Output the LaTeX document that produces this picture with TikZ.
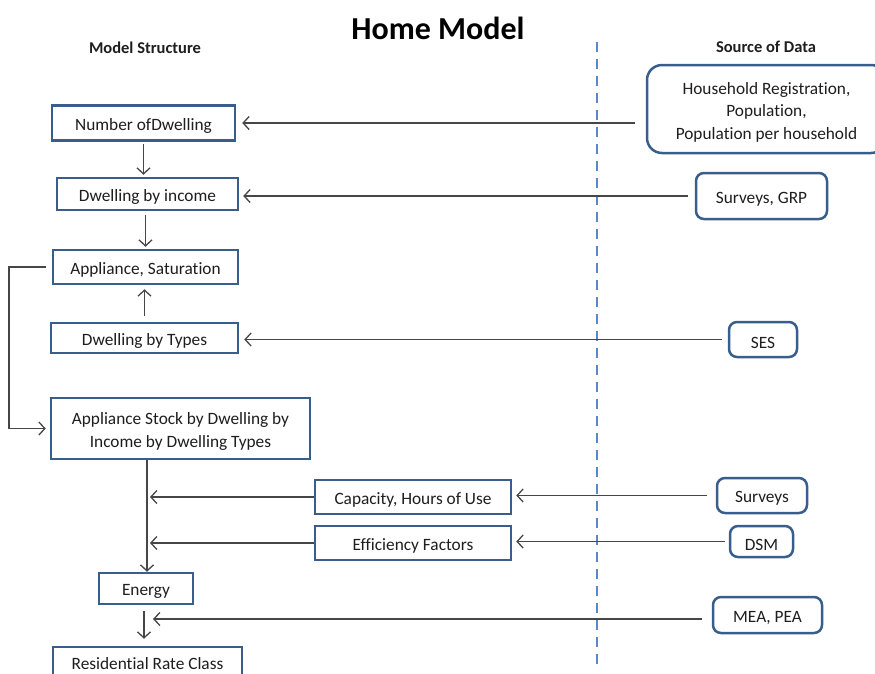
\documentclass[tikz,border=0pt]{standalone}
\usepackage{fontspec}
\setmainfont{Carlito}[Ligatures={NoCommon}]
\usetikzlibrary{arrows.meta}
\definecolor{boxblue}{RGB}{58,94,140}
\definecolor{dashblue}{RGB}{88,136,198}
\definecolor{linegray}{RGB}{70,70,70}
\definecolor{txt}{RGB}{30,30,30}
\tikzset{
  textlab/.style={align=center, text=txt, font=\fontsize{17.3}{22.5}\selectfont,
    inner sep=0pt, yshift=-3.2pt},
  boxline/.style={draw=boxblue, line width=2.5pt, fill=white, inner sep=0pt},
  % a box carries its words as a centred label
  stepbox/.style={boxline, label={[textlab]center:{#1}}},
  % the last box runs off the page, so its words sit a little higher
  edgebox/.style={boxline, label={[textlab, yshift=3.5pt]center:{#1}}},
  srcbox/.style={stepbox={#1}, rounded corners=8pt},
  arr/.style={draw=linegray, line width=1.5pt,
    -{Straight Barb[length=6pt,width=13pt,line width=1.3pt]}},
  head/.style={font=\bfseries\fontsize{16.5}{18}\selectfont, text=txt},
}
\begin{document}
\begin{tikzpicture}[x=1pt,y=-1pt]
\useasboundingbox (0,0) rectangle (875,673);
\begin{scope}
\clip (0,0) rectangle (875,673);

% headings
\node[font=\bfseries\fontsize{32}{36}\selectfont, text=black] (title) at (438,28) {Home Model};
\node[head] (lhead) at (145,48) {Model Structure};
\node[head] (rhead) at (766,47) {Source of Data};

% dashed divider
\coordinate (dtop) at (597,42);
\coordinate (dbot) at (597,667);
\draw[dashblue, line width=2.8pt, dash pattern=on 10pt off 7pt] (dtop) -- (dbot);

% model structure column
\node[stepbox={Number ofDwelling}, minimum width=183pt, minimum height=35pt] (b1) at (143.5,123) {};
\node[stepbox={Dwelling by income}, minimum width=181pt, minimum height=32pt] (b2) at (147.5,194) {};
\node[stepbox={Appliance, Saturation}, minimum width=185pt, minimum height=34pt] (b3) at (145.5,267) {};
\node[stepbox={Dwelling by Types}, minimum width=187pt, minimum height=30pt] (b4) at (144.5,338) {};
\node[stepbox={Appliance Stock by Dwelling by\\Income by Dwelling Types},
  minimum width=259pt, minimum height=61pt] (b5) at (180.5,428.5) {};
\node[stepbox={Capacity, Hours of Use}, minimum width=196pt, minimum height=34pt] (b6) at (413,497) {};
\node[stepbox={Efficiency Factors}, minimum width=196pt, minimum height=34pt] (b7) at (413,543) {};
\node[stepbox={Energy}, minimum width=94pt, minimum height=31pt] (b8) at (146,588.5) {};
\node[edgebox={Residential Rate Class}, minimum width=189pt, minimum height=34pt] (b9) at (147.5,664) {};

% data sources
\node[srcbox={Household Registration,\\Population,\\Population per household},
  rounded corners=15pt, minimum width=239pt, minimum height=88pt] (sA) at (766.5,109) {};
\node[srcbox={Surveys, GRP}, minimum width=131pt, minimum height=46pt] (sB) at (761.5,196) {};
\node[srcbox={SES}, minimum width=68pt, minimum height=35pt] (sC) at (763,339.5) {};
\node[srcbox={Surveys}, minimum width=90pt, minimum height=35pt] (sD) at (762,495.5) {};
\node[srcbox={DSM}, minimum width=63pt, minimum height=31pt] (sE) at (761.5,541.5) {};
\node[srcbox={MEA, PEA}, minimum width=109pt, minimum height=36pt] (sF) at (767.5,615) {};

% helper points on the trunk lines
\coordinate (loopx) at (9,0);
\coordinate (trunk) at (147,0);
\coordinate (mid) at (144,619);

% vertical flow
\draw[arr, shorten <=2pt, shorten >=2pt] (b1.south) -- (b1.south |- b2.north);
\draw[arr, shorten <=4pt, shorten >=2pt] (b2.south -| b3.north) -- (b3.north);
\draw[arr, shorten <=6pt, shorten >=4pt] (b4.north) -- (b4.north |- b3.south);
\draw[arr, shorten <=6pt, shorten >=4pt] (b3.west) -- (loopx |- b3.west) -- (loopx |- b5.west) -- (b5.west);
\draw[arr] (trunk |- b5.south) -- (trunk |- b8.north);
\draw[arr, shorten <=6pt, shorten >=7pt] (mid |- b8.south) -- (mid |- b9.north);

% source inputs
\draw[arr, shorten <=11pt, shorten >=6pt] (sA.west |- b1.east) -- (b1.east);
\draw[arr, shorten <=7pt, shorten >=4pt] (sB.west) -- (sB.west -| b2.east);
\draw[arr, shorten <=6pt, shorten >=5pt] (sC.west) -- (sC.west -| b4.east);
\draw[arr, shorten <=9pt, shorten >=4pt] (sD.west) -- (sD.west -| b6.east);
\draw[arr, shorten <=4pt, shorten >=4pt] (sE.west) -- (sE.west -| b7.east);
\draw[arr, shorten >=3pt] (b6.west) -- (b6.west -| trunk);
\draw[arr, shorten >=3pt] (b7.west) -- (b7.west -| trunk);
\draw[arr, shorten <=10pt, shorten >=9pt] (sF.west |- mid) -- (mid);
\end{scope}
\end{tikzpicture}
\end{document}
